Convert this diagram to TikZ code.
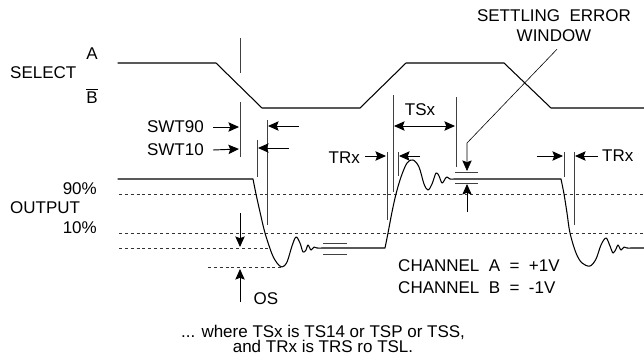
\documentclass[tikz,border=0pt]{standalone}
\usepackage{fontspec}
\setmainfont{Liberation Sans}
\usetikzlibrary{arrows.meta}
\begin{document}
\begin{tikzpicture}
    [x=0.03cm, y=-0.03cm,
    every node/.style={inner sep=0pt, font=\fontsize{14.5}{16}\selectfont},
    wave/.style={line width=0.9pt, line join=round, line cap=round},
    marker/.style={line width=0.6pt, black!75},
    guide/.style={line width=0.6pt, dash pattern=on 2.5pt off 2.5pt, black!80},
    dim/.style={line width=0.8pt, -{Stealth[length=9pt, width=8pt, inset=1.5pt]}},
    dimboth/.style={line width=0.8pt, {Stealth[length=9pt, width=8pt, inset=1.5pt]}-{Stealth[length=9pt, width=8pt, inset=1.5pt]}}]
    \useasboundingbox (0,0) rectangle (644,362);
    \node (sela) at (92,54) {A};
    \node[anchor=west] (select) at (10,73) {SELECT};
    \node (selb) at (92,96) {$\overline{\mbox{B}}$};
    \node[anchor=east] (swt90) at (204,127) {SWT90};
    \node[anchor=east] (swt10) at (204,150) {SWT10};
    \node[anchor=east] (p90) at (97,189) {90\%};
    \node[anchor=west] (output) at (10,208) {OUTPUT};
    \node[anchor=east] (p10) at (97,228) {10\%};
    \node (os) at (266,299) {OS};
    \node[anchor=east] (trx a) at (360,158) {TRx};
    \node (tsx) at (420,110) {TSx};
    \node[anchor=west] (trx b) at (602,156) {TRx};
    \node[align=center] (sew) at (554,26) {SETTLING\ \ ERROR\\[1pt]WINDOW};
    \node[anchor=west] (cha) at (398,266) {CHANNEL\ \ A\ \ =\ \ +1V};
    \node[anchor=west] (chb) at (398,288) {CHANNEL\ \ B\ \ =\ \ -1V};
    \node[align=center, font=\fontsize{14.5}{13.2}\selectfont] (note) at (323,339)
        {... where TSx is TS14 or TSP or TSS,\\and TRx is TRS ro TSL.};
    \draw[wave] (118,63) -- (216,63) -- (262,108) -- (360,108) -- (406,63)
        -- (504,63) -- (551,108) -- (644,108);
    \draw[guide] (119,194) -- (644,194);
    \draw[guide] (119,233) -- (644,233);
    \draw[guide] (119,248) -- (268,248);
    \draw[guide] (208,267) -- (282,267);
    \draw[wave] (118,179) -- (253,179)
        -- plot[smooth, tension=0.55] coordinates {(253,179) (256,194) (260,212) (265,233)
            (272,254) (277,263) (282,267) (287,262) (292,246) (296,237) (300,243) (303,252)
            (306,250) (308,245) (311,250) (314,247) (317,248) (322,248)}
        -- (385,248)
        -- plot[smooth, tension=0.55] coordinates {(385,248) (388,233) (392,212) (396,194)
            (401,177) (407,163) (413,160) (419,167) (424,184) (428,190) (432,184) (436,173)
            (439,176) (442,183) (445,179) (447,177) (450,179) (454,179)}
        -- (561,179)
        -- plot[smooth, tension=0.55] coordinates {(561,179) (564,194) (567,213) (570,233)
            (576,253) (582,263) (590,266) (596,259) (601,245) (606,238) (610,246) (613,253)
            (616,249) (618,245) (621,250) (624,247) (627,248) (631,248)}
        -- (644,248);
    \draw[marker] (240,38) -- (240,73) (240,102) -- (240,157);
    \draw[marker] (257,140) -- (257,177);
    \draw[marker] (267,120) -- (267,225);
    \draw[marker] (387,152) -- (387,220);
    \draw[marker] (393,95) -- (393,192);
    \draw[marker] (398,152) -- (398,176);
    \draw[marker] (456,97) -- (456,167);
    \draw[marker] (564,152) -- (564,177);
    \draw[marker] (574,152) -- (574,225);
    \draw[marker] (323,243) -- (347,243) (323,254) -- (347,254);
    \draw[marker] (455,172) -- (478,172) (455,183) -- (478,183);
    \draw[dim] (swt90.east) ++(9,0) -- (239,127);
    \draw[dim] (299,126) -- (268,126);
    \draw[dim] (swt10.east) ++(9,0) -- (239,149);
    \draw[dim] (289,148) -- (258,148);
    \draw[dim] (trx a.east) ++(5,-2) -- (386,156);
    \draw[dim] (420,156) -- (399,156);
    \draw[dimboth] (394,126) -- (455,126);
    \draw[dim, line width=0.5pt] (sew.south) ++(3,7) -- (467,143) -- (467,171);
    \draw[dim] (467,212) -- (467,184);
    \draw[dim] (240,213) -- (240,247);
    \draw[dim] (os.west) ++(-13,3) coordinate (os foot) (os foot -| 240,0) -- (240,269);
    \draw[dim] (537,156) -- (563,156);
    \draw[dim] (trx b.west) ++(-4,0) -- (575,156);
\end{tikzpicture}
\end{document}
